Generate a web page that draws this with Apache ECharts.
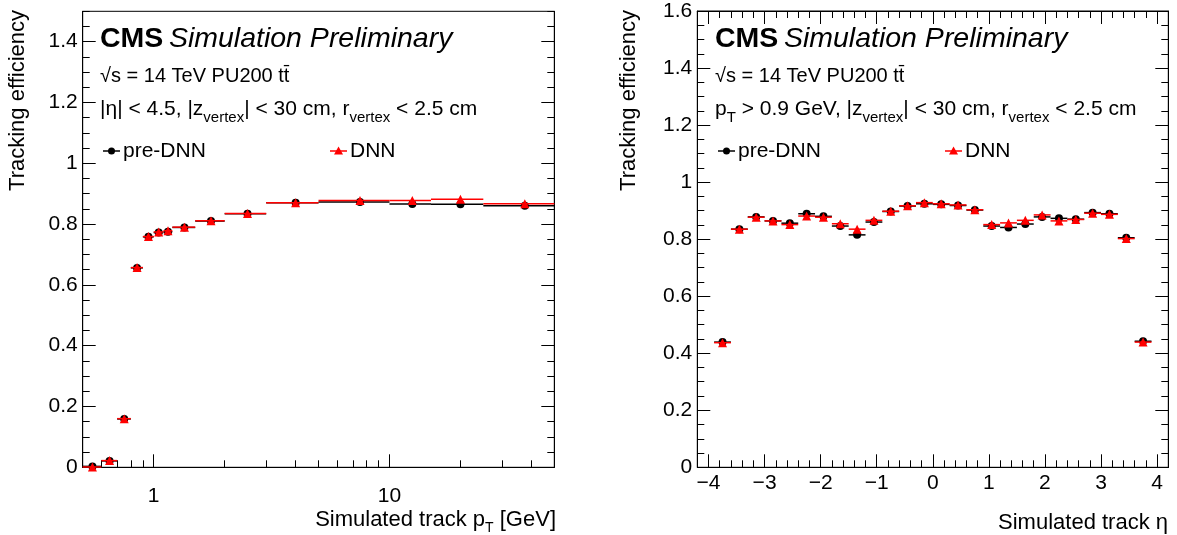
<!DOCTYPE html>
<html>
<head>
<meta charset="utf-8">
<script src="https://cdn.jsdelivr.net/npm/echarts@6/dist/echarts.min.js"></script>
<style>
html,body{margin:0;padding:0;background:#fff;}
#c{width:1177px;height:535px;}
</style>
</head>
<body>
<div id="c"></div>
<script>
// ---------- data: left panel (efficiency vs pT) ----------
const ptBinLow  = [0.5, 0.6, 0.7, 0.8, 0.9, 1.0, 1.1, 1.2, 1.5, 2.0, 3.0, 5.0, 10, 15, 25];
const ptBinHigh = [0.6, 0.7, 0.8, 0.9, 1.0, 1.1, 1.2, 1.5, 2.0, 3.0, 5.0, 10, 15, 25, 50];
const ptCenter  = [0.55, 0.65, 0.75, 0.85, 0.95, 1.05, 1.15, 1.35, 1.75, 2.5, 4.0, 7.5, 12.5, 20, 37.5];
const ptPreDNN  = [0.003, 0.021, 0.159, 0.656, 0.758, 0.772, 0.775, 0.789, 0.810, 0.834, 0.870, 0.873, 0.866, 0.865, 0.860];
const ptDNN     = [0.001, 0.022, 0.160, 0.657, 0.759, 0.774, 0.778, 0.790, 0.811, 0.835, 0.870, 0.878, 0.878, 0.882, 0.867];

// ---------- data: right panel (efficiency vs eta) ----------
const etaBinLow  = [-3.9,-3.6,-3.3,-3.0,-2.7,-2.4,-2.1,-1.8,-1.5,-1.2,-0.9,-0.6,-0.3,0.0,0.3,0.6,0.9,1.2,1.5,1.8,2.1,2.4,2.7,3.0,3.3,3.6];
const etaBinHigh = [-3.6,-3.3,-3.0,-2.7,-2.4,-2.1,-1.8,-1.5,-1.2,-0.9,-0.6,-0.3,0.0,0.3,0.6,0.9,1.2,1.5,1.8,2.1,2.4,2.7,3.0,3.3,3.6,3.9];
const etaCenter  = [-3.75,-3.45,-3.15,-2.85,-2.55,-2.25,-1.95,-1.65,-1.35,-1.05,-0.75,-0.45,-0.15,0.15,0.45,0.75,1.05,1.35,1.65,1.95,2.25,2.55,2.85,3.15,3.45,3.75];
const etaPreDNN  = [0.439,0.835,0.878,0.864,0.856,0.889,0.880,0.846,0.815,0.860,0.897,0.916,0.924,0.922,0.918,0.902,0.846,0.841,0.853,0.878,0.873,0.870,0.893,0.889,0.805,0.442];
const etaDNN     = [0.437,0.835,0.877,0.864,0.851,0.881,0.877,0.854,0.835,0.866,0.898,0.917,0.928,0.924,0.920,0.903,0.851,0.857,0.866,0.885,0.864,0.869,0.891,0.887,0.802,0.439];

// ---------- tick values ----------
const ptMajorTicks = [1, 10];
const ptMinorTicks = [0.6,0.7,0.8,0.9,2,3,4,5,6,7,8,9,20,30,40];
const effLeftMajor = [0,0.2,0.4,0.6,0.8,1.0,1.2,1.4];
const effRightMajor = [0,0.2,0.4,0.6,0.8,1.0,1.2,1.4,1.6];
const etaMajorTicks = [-4,-3,-2,-1,0,1,2,3,4];

function range(a, b, step) { const r = []; for (let v = a; v <= b + 1e-9; v += step) r.push(+v.toFixed(4)); return r; }
function minus(list, sub) { return list.filter(v => !sub.some(s => Math.abs(s - v) < 1e-6)); }
const effLeftMinor = minus(range(0, 1.5, 0.05), effLeftMajor);
const effRightMinor = minus(range(0, 1.6, 0.05), effRightMajor);
const etaMinorTicks = minus(range(-4.2, 4.2, 0.2), etaMajorTicks);

const FONT = '"Liberation Sans", Arial, Helvetica, sans-serif';
const MAJ = 13, MIN = 7;

function ax(o) {
  const a = {
    type: o.type || 'value', gridIndex: o.grid, position: o.pos, min: o.min, max: o.max,
    splitLine: {show: false},
    axisLine: {show: !!o.line, onZero: false, lineStyle: {color: '#000', width: 1}},
    axisTick: {show: true, inside: true, length: o.len, customValues: o.ticks, lineStyle: {color: '#000', width: 1}},
    axisLabel: {show: false},
    z: 5
  };
  if (o.type === 'log') a.logBase = 10;
  if (o.labels) {
    a.axisLabel = {show: true, customValues: o.labels, color: '#000', fontFamily: FONT, fontSize: 21,
      margin: o.margin, formatter: o.fmt || (v => String(v).replace('-', '\u2212'))};
  }
  return a;
}

const xAxes = [
  ax({grid:0, type:'log', pos:'bottom', min:0.5, max:50, ticks:ptMajorTicks, len:MAJ, line:true, labels:ptMajorTicks, margin:18}),
  ax({grid:0, type:'log', pos:'bottom', min:0.5, max:50, ticks:ptMinorTicks, len:MIN}),
  ax({grid:1, pos:'bottom', min:-4.2, max:4.2, ticks:etaMajorTicks, len:MAJ, line:true, labels:etaMajorTicks, margin:5}),
  ax({grid:1, pos:'bottom', min:-4.2, max:4.2, ticks:etaMinorTicks, len:MIN}),
  ax({grid:1, pos:'top', min:-4.2, max:4.2, ticks:etaMajorTicks, len:MAJ, line:true}),
  ax({grid:1, pos:'top', min:-4.2, max:4.2, ticks:etaMinorTicks, len:MIN})
];
const yAxes = [
  ax({grid:0, pos:'left', min:0, max:1.5, ticks:effLeftMajor, len:MAJ, line:true, labels:effLeftMajor, margin:5}),
  ax({grid:0, pos:'left', min:0, max:1.5, ticks:effLeftMinor, len:MIN}),
  ax({grid:0, pos:'right', min:0, max:1.5, ticks:effLeftMajor, len:MAJ, line:true}),
  ax({grid:0, pos:'right', min:0, max:1.5, ticks:effLeftMinor, len:MIN}),
  ax({grid:1, pos:'left', min:0, max:1.6, ticks:effRightMajor, len:MAJ, line:true, labels:effRightMajor, margin:5}),
  ax({grid:1, pos:'left', min:0, max:1.6, ticks:effRightMinor, len:MIN}),
  ax({grid:1, pos:'right', min:0, max:1.6, ticks:effRightMajor, len:MAJ, line:true}),
  ax({grid:1, pos:'right', min:0, max:1.6, ticks:effRightMinor, len:MIN})
];

function errSeries(lo, hi, val, color, xi, yi, z) {
  return {
    type: 'custom', xAxisIndex: xi, yAxisIndex: yi, z: z, silent: true,
    data: lo.map((l, i) => [l, hi[i], val[i]]),
    encode: {x: [0, 1], y: 2},
    renderItem: function (params, api) {
      const a = api.coord([api.value(0), api.value(2)]);
      const b = api.coord([api.value(1), api.value(2)]);
      return {type: 'line', shape: {x1: a[0], y1: a[1], x2: b[0], y2: b[1]},
        style: {stroke: color, lineWidth: 1.5}};
    }
  };
}
function ptSeries(cx, val, symbol, size, color, xi, yi, z) {
  return {type: 'scatter', xAxisIndex: xi, yAxisIndex: yi, z: z, silent: true,
    symbol: symbol, symbolSize: size, itemStyle: {color: color, opacity: 1},
    data: cx.map((c, i) => [c, val[i]])};
}

const series = [
  errSeries(ptBinLow, ptBinHigh, ptPreDNN, '#000', 0, 0, 10),
  ptSeries(ptCenter, ptPreDNN, 'circle', 8, '#000', 0, 0, 11),
  errSeries(ptBinLow, ptBinHigh, ptDNN, '#ff0000', 0, 0, 12),
  ptSeries(ptCenter, ptDNN, 'triangle', 9, '#ff0000', 0, 0, 13),
  errSeries(etaBinLow, etaBinHigh, etaPreDNN, '#000', 2, 4, 10),
  ptSeries(etaCenter, etaPreDNN, 'circle', 8, '#000', 2, 4, 11),
  errSeries(etaBinLow, etaBinHigh, etaDNN, '#ff0000', 2, 4, 12),
  ptSeries(etaCenter, etaDNN, 'triangle', 9, '#ff0000', 2, 4, 13)
];

// ---------- annotations ----------
const rich = {
  b: {fontFamily: FONT, fontSize: 28.5, fontWeight: 'bold', color: '#000'},
  i: {fontFamily: FONT, fontSize: 28.5, fontStyle: 'italic', color: '#000'},
  n: {fontFamily: FONT, fontSize: 21, color: '#000'},
  s: {fontFamily: FONT, fontSize: 15, color: '#000', padding: [17, 0, 0, 0]}
};
function txt(x, y, text, extra) {
  return {type: 'text', x: x, y: y, silent: true, z: 20,
    style: Object.assign({text: text, rich: rich, fontFamily: FONT, fontSize: 20, fill: '#000',
      align: 'left', verticalAlign: 'middle'}, extra || {})};
}
function legendItem(x, y, color, symbol, label) {
  const els = [
    {type: 'line', shape: {x1: x, y1: y, x2: x + 17, y2: y}, style: {stroke: color, lineWidth: 1.5}, silent: true, z: 20}
  ];
  if (symbol === 'circle') els.push({type: 'circle', shape: {cx: x + 8.5, cy: y, r: 3.5}, style: {fill: color}, silent: true, z: 21});
  else els.push({type: 'polygon', shape: {points: [[x + 8.5, y - 4.5], [x + 13, y + 3.5], [x + 4, y + 3.5]]}, style: {fill: color}, silent: true, z: 21});
  els.push(txt(x + 20, y, label, {fontSize: 21}));
  return els;
}
function panelText(x0, line3) {
  return [
    txt(x0, 39, '{b|CMS} {i|Simulation Preliminary}'),
    txt(x0, 76, '\u221As = 14 TeV PU200 tt\u0304'),
    txt(x0, 109, line3),
    ...legendItem(x0 + 3, 151, '#000', 'circle', 'pre-DNN'),
    ...legendItem(x0 + 230, 151, '#ff0000', 'triangle', 'DNN')
  ];
}

const yTitleL = txt(18, 10, 'Tracking efficiency', {fontSize: 22, align: 'right'});
yTitleL.rotation = Math.PI / 2;
const yTitleR = txt(629, 10, 'Tracking efficiency', {fontSize: 22, align: 'right'});
yTitleR.rotation = Math.PI / 2;

const graphic = [
  ...panelText(100, '{n||\u03B7| < 4.5, |z}{s|vertex}{n|| < 30 cm, r}{s|vertex}{n| < 2.5 cm}'),
  ...panelText(715, '{n|p}{s|T}{n| > 0.9 GeV, |z}{s|vertex}{n|| < 30 cm, r}{s|vertex}{n| < 2.5 cm}'),
  yTitleL, yTitleR,
  txt(556, 520, '{t|Simulated track p}{u|T}{t| [GeV]}', {align: 'right', rich: {
    t: {fontFamily: FONT, fontSize: 22, color: '#000'},
    u: {fontFamily: FONT, fontSize: 14, color: '#000', padding: [16, 0, 0, 0]}}}),
  txt(1168, 523, 'Simulated track \u03B7', {fontSize: 22, align: 'right'})
];

const chart = echarts.init(document.getElementById('c'), null, {renderer: 'canvas'});
chart.setOption({
  animation: false,
  backgroundColor: '#fff',
  grid: [
    {left: 82.7, right: 622.7, top: 11.3, bottom: 67.7, show: true, borderColor: '#000', borderWidth: 1, backgroundColor: 'transparent'},
    {left: 697.3, right: 8.7, top: 11, bottom: 67.7, show: true, borderColor: '#000', borderWidth: 1, backgroundColor: 'transparent'}
  ],
  xAxis: xAxes,
  yAxis: yAxes,
  series: series,
  graphic: graphic
});
</script>
</body>
</html>
